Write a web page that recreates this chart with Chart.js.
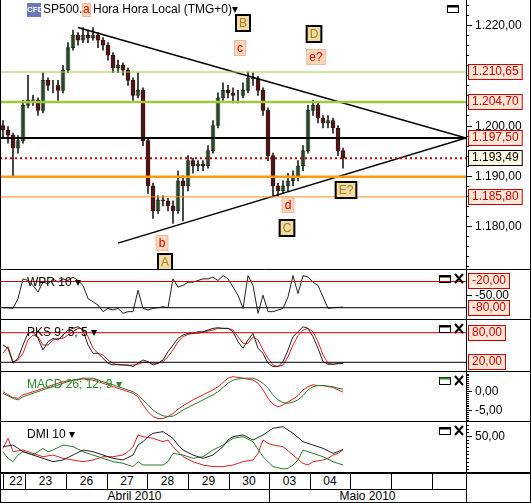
<!DOCTYPE html>
<html>
<head>
<meta charset="utf-8">
<script src="https://cdn.jsdelivr.net/npm/chart.js@4.4.1/dist/chart.umd.min.js"></script>
<style>
body{margin:0;width:531px;height:503px;position:relative;overflow:hidden;background:#fff;font-family:"Liberation Sans",Arial,sans-serif;font-size:11px}
canvas{position:absolute;left:0}
#dates{position:absolute;left:0;top:473px;width:531px;height:30px}
#dates div{position:absolute;box-sizing:border-box}
</style>
</head>
<body>
<canvas id="main" width="531" height="270" style="top:0"></canvas>
<canvas id="wpr" width="531" height="50" style="top:270px"></canvas>
<canvas id="pks" width="531" height="52" style="top:320px"></canvas>
<canvas id="macd" width="531" height="50" style="top:372px"></canvas>
<canvas id="dmi" width="531" height="51" style="top:422px"></canvas>
<div id="dates"></div>
<script>
// candles, one every hour slot (bar index)
const closes = [1199.1,1198.1,1195.5,1197.0,1204.0,1205.1,1205.0,1203.0,1209.0,1208.0,
  1208.0,1207.0,1211.0,1215.5,1218.0,1217.0,1218.0,1217.5,1218.0,1217.0,
  1216.0,1214.0,1211.5,1212.0,1211.0,1209.0,1206.0,1207.0,1197.0,1188.0,
  1183.0,1185.2,1185.0,1184.0,1183.0,1189.0,1188.0,1193.0,1192.0,1192.3,
  1192.0,1195.0,1200.0,1205.5,1207.0,1206.5,1206.0,1206.0,1207.0,1209.5,
  1209.3,1207.0,1203.0,1194.0,1188.0,1187.0,1188.0,1189.0,1190.0,1192.0,
  1195.0,1203.0,1204.0,1201.5,1200.5,1201.0,1199.5,1195.0,1193.5];
const highs = [1201,1199.8,1198.5,1198,1205,1210,1206,1205.5,1210.5,1209.5,
  1209,1209,1212,1216.5,1219,1218.5,1219.5,1219,1219.5,1218.5,
  1217.5,1216.5,1214.5,1213,1212.5,1211.5,1209.5,1210.5,1207.5,1197.5,
  1188.5,1186,1186,1185.5,1185,1191,1190,1194,1193.5,1193,
  1193,1196,1201,1206.5,1208.5,1208,1207.5,1207,1208.5,1210.7,
  1210.5,1209.8,1207.5,1203.5,1194.5,1188.5,1189,1190.5,1191,1193,
  1196,1204,1205,1204.5,1202,1202,1201.5,1200,1195.5];
const lows = [1197.5,1196.5,1190,1194.5,1196.5,1203.5,1204,1202,1202.5,1207,
  1206.5,1205,1206.5,1210.5,1215,1216,1216.5,1216.5,1217,1215.5,
  1215,1213,1210.5,1210.5,1210,1208,1205,1205.5,1196,1186.5,
  1181.5,1182.5,1184,1183,1180.5,1182.5,1181,1187,1190.5,1191,
  1191,1191.5,1194.5,1199.5,1205,1205.5,1204.5,1204.5,1205.5,1206.5,
  1208,1206,1202,1193,1185.8,1186,1186.5,1187,1188,1189,
  1191,1194.5,1202,1200.5,1199.5,1199.5,1198.5,1194,1191.5];
const firstOpen = 1200;

const levels = [1210.65, 1204.70, 1197.50, 1193.49, 1189.80, 1185.80];
const triUpper = [[78,1219.5],[466,1197.5]];
const triLower = [[118,1176.6],[466,1197.5]];

const wpr = [-80,-80,-81.5,-59,-14,-17.75,-29,-44,-21.5,-25,
  -14,-21.5,-14,-17.75,-10,-17.75,-29,-59,-66.5,-74,
  -89,-81.5,-85.25,-81.5,-92.75,-89,-89,-40,-81.5,-85.25,
  -81.5,-80,-77.75,-80,-14,-32.75,-29,-21.5,-21.5,-17.75,
  -14,-14,-10,-17.75,-6.5,-14,-32.75,-51.5,-81.5,-6.5,
  -29,-92.75,-51.5,-89,-89,-85.25,-81.5,-55.25,-6.5,-47.75,
  -6.5,-10,-21.5,-29,-55.25,-81.5,-80,-79.25,-78.5];
const pksK = [55.1,48.3,18.0,28.1,55.1,78.7,82.0,68.5,45.0,61.8,
  68.5,65.2,75.3,85.4,88.8,92.1,85.4,55.1,38.2,38.2,
  28.1,18.0,14.6,16.0,14.6,14.6,11.3,18.0,24.7,21.4,
  14.6,18.0,24.7,41.6,55.1,68.5,75.3,78.7,78.7,82.0,
  82.0,85.4,88.8,90.1,88.8,88.8,82.0,61.8,48.3,65.2,
  78.7,48.3,38.2,18.0,11.3,11.3,21.4,45.0,71.9,82.0,
  92.1,88.8,71.9,48.3,21.4,16.0,16.0,17.3,18.0];
const pksD = [38.2,51.7,21.4,24.7,38.2,65.2,75.3,71.9,55.1,55.1,
  65.2,68.5,68.5,75.3,82.0,88.8,88.8,71.9,48.3,38.2,
  34.8,24.7,18.0,14.6,14.6,13.3,14.6,16.0,20.0,20.0,
  18.0,18.0,21.4,31.5,45.0,61.8,71.9,76.6,78.7,78.7,
  80.7,83.4,85.4,88.8,88.8,88.8,85.4,71.9,58.4,58.4,
  71.9,65.2,45.0,28.1,14.6,11.3,14.6,31.5,55.1,73.9,
  85.4,88.8,82.0,61.8,34.8,18.0,16.0,17.3,17.3];

const macdT = [0,2,3,4,6,8,10,12,14,16,18,20,22,24,26,27,28,29,30,31,32,33,34,35,36,38,40,42,43,44,45,46,47,48,50,51,52,53,54,55,56,57,58,59,60,61,62,63,64,66,67,68];
const macdLine = [-0.6,-1.9,-2.3,-1.5,-0.6,0.3,1.1,2.0,2.8,3.3,3.3,2.4,1.6,0.7,-0.2,-1.0,-2.3,-3.6,-4.9,-5.8,
  -6.4,-6.6,-6.5,-5.8,-4.9,-3.6,-2.3,-1.0,-0.2,0.9,2.0,2.8,3.1,3.3,3.3,2.8,2.0,0.7,-1.0,-2.3,
  -3.0,-3.2,-2.9,-2.3,-1.2,0.3,1.1,1.4,1.4,1.1,0.7,0.5];
const macdSignal = [-0.2,-1.7,-1.9,-1.0,-0.2,0.7,1.6,2.4,2.8,3.1,2.8,2.0,1.1,0.3,-0.6,-1.5,-3.6,-5.3,-6.6,-7.1,
  -7.1,-6.6,-5.8,-4.7,-3.8,-2.3,-1.0,0.3,1.1,2.2,3.3,3.7,3.5,3.3,2.8,2.0,0.3,-1.9,-3.4,-4.1,
  -3.6,-2.8,-2.1,-1.2,0.3,1.1,1.6,1.4,1.4,0.9,0.3,-0.3];

const adxT = [0,2,4,6,8,10,12,14,16,18,20,22,24,26,27,28,29,30,32,34,35,36,38,40,42,44,45,46,48,50,52,54,56,57,58,60,62,64,66,67,68];
const adx = [35.6,37.8,28.8,24.3,19.8,15.3,17.6,24.3,31.1,28.8,24.3,19.8,17.6,24.3,37.8,42.3,49.1,53.6,55.9,46.8,
  37.8,31.1,24.3,19.8,24.3,35.6,44.6,49.1,51.4,44.6,51.4,60.4,62.6,58.1,53.6,42.3,37.8,33.3,26.5,28.8,32.0];
const diPlusT = [0,1,2,3,4,6,8,9,10,12,14,16,18,20,22,24,26,27,28,30,32,33,34,36,38,40,42,44,46,48,50,52,54,56,57,58,59,60,61,62,64,66,68];
const diPlus = [28.8,19.8,15.3,24.3,28.8,24.3,33.3,28.8,31.1,37.8,35.6,28.8,24.3,19.8,15.3,13.1,8.6,15.3,10.8,10.8,
  10.8,15.3,26.5,24.3,19.8,22.0,31.1,37.8,46.8,49.1,42.3,22.0,8.6,5.5,6.3,10.8,17.6,31.1,28.8,26.5,22.0,15.3,10.8];
const diMinusT = [0,1,2,4,6,8,10,12,14,16,18,20,22,24,25,26,27,28,30,32,33,34,36,38,40,42,44,46,48,50,51,52,53,54,56,58,60,61,62,64,65,66,67,68];
const diMinus = [33.3,46.8,28.8,31.1,26.5,22.0,24.3,19.8,17.6,15.3,17.6,22.0,22.0,24.3,28.8,35.6,51.4,49.1,46.8,42.3,
  44.6,35.6,22.0,15.3,10.8,8.6,8.6,10.8,15.3,17.6,26.5,44.6,40.1,37.8,35.6,24.3,13.1,10.8,15.3,17.6,19.8,24.3,26.5,31.1];

const days = ['22','23','26','27','28','29','30','03','04'];
const months = ['Abril 2010','Maio 2010'];

const px = t => t * 5 + 3;

function fmt(v) {
    const s = Math.abs(v).toFixed(2).split('.');
    return (v < 0 ? '-' : '') + s[0].replace(/\B(?=(\d{3})+(?!\d))/g, '.') + ',' + s[1];
}

function box(ctx, x, y, w, h, bg, border, lw) {
    ctx.fillStyle = bg;
    ctx.fillRect(x, y, w, h);
    ctx.strokeStyle = border;
    ctx.lineWidth = lw;
    ctx.strokeRect(x + lw / 2, y + lw / 2, w - lw, h - lw);
}

const deco = {
    id: 'deco',
    afterDraw(chart, args, o) {
        const ctx = chart.ctx, y = chart.scales.y, W = chart.width, H = chart.height;
        const ax = chart.chartArea.right;
        ctx.save();
        ctx.strokeStyle = '#000';
        ctx.lineWidth = 1;
        ctx.beginPath();
        ctx.moveTo(ax + 0.5, 0); ctx.lineTo(ax + 0.5, H);
        ctx.moveTo(0, H - 0.5); ctx.lineTo(W, H - 0.5);
        ctx.moveTo(0.5, 0); ctx.lineTo(0.5, H);
        ctx.moveTo(W - 0.5, 0); ctx.lineTo(W - 0.5, H);
        if (o.minor) {
            for (let v = Math.ceil(y.min / o.minor) * o.minor; v <= y.max; v += o.minor) {
                const py = Math.round(y.getPixelForValue(v)) + 0.5;
                ctx.moveTo(ax, py); ctx.lineTo(ax + 3, py);
            }
        }
        ctx.stroke();
        ctx.font = '12px "Liberation Sans"';
        ctx.textBaseline = 'middle';
        ctx.fillStyle = '#000';
        (o.ticks || []).forEach(v => {
            const py = Math.round(y.getPixelForValue(v)) + 0.5;
            ctx.beginPath(); ctx.moveTo(ax, py); ctx.lineTo(ax + 6, py); ctx.stroke();
            ctx.fillText(fmt(v), ax + 9, py);
        });
        (o.boxes || []).forEach(b => {
            const py = Math.round(y.getPixelForValue(b.v));
            const w = ctx.measureText(fmt(b.v)).width + 8;
            box(ctx, ax + 2, py - 8, w, 16, b.bg || '#ffe8d8', b.border || '#d00000', 1);
            ctx.fillStyle = b.color || '#d00000';
            ctx.fillText(fmt(b.v), ax + 6, py);
        });
        // panel title + window buttons
        ctx.font = '12px "Liberation Sans"';
        ctx.fillStyle = o.titleColor || '#000';
        if (o.title) ctx.fillText(o.title, 27, 13);
        ctx.strokeStyle = '#000';
        ctx.lineWidth = 1;
        ctx.strokeRect(o.mainBtn ? 447.5 : 439.5, 5.5, 11, 7);
        ctx.fillRect(o.mainBtn ? 447.5 : 439.5, 5.5, 11, 2);
        if (!o.mainBtn) {
            ctx.lineWidth = 2;
            ctx.beginPath();
            ctx.moveTo(455, 4); ctx.lineTo(463, 13);
            ctx.moveTo(463, 4); ctx.lineTo(455, 13);
            ctx.stroke();
        }
        (o.notes || []).forEach(n => {
            ctx.font = '12px "Liberation Sans"';
            const w = ctx.measureText(n.t).width + 6;
            if (n.big) {
                box(ctx, n.x - w / 2 - 1, n.y - 9, w + 2, 18, '#f3dca4', '#000', 2);
                ctx.fillStyle = '#a08020';
            } else {
                box(ctx, n.x - w / 2, n.y - 8, w, 16, '#ffd8bc', '#f0b898', 1);
                ctx.fillStyle = '#d00000';
            }
            ctx.textAlign = 'center';
            ctx.fillText(n.t, n.x, n.y + 1);
            ctx.textAlign = 'left';
        });
        if (o.header) {
            ctx.fillStyle = '#6a78b8';
            ctx.fillRect(27, 3, 14, 14);
            ctx.fillStyle = '#fff';
            ctx.font = 'bold 8px "Liberation Sans"';
            ctx.fillText('CFD', 27, 10);
            ctx.font = '12px "Liberation Sans"';
            ctx.fillStyle = '#000';
            ctx.fillText('SP500.I', 43, 10);
            box(ctx, 82, 3, 9, 14, '#ffd8bc', '#f0b898', 1);
            ctx.fillStyle = '#d00000';
            ctx.fillText('a', 83, 10);
            ctx.fillStyle = '#000';
            ctx.fillText('Hora Hora Local (TMG+0)\u25BE', 93, 10);
        }
        ctx.restore();
    }
};

function baseOptions(yMin, yMax, deco) {
    return {
        responsive: false,
        animation: false,
        events: [],
        layout: { padding: { left: 0, right: 65, top: 0, bottom: 0 } },
        plugins: { legend: { display: false }, tooltip: { enabled: false }, deco: deco },
        scales: {
            x: { type: 'linear', min: 0, max: 466, offset: false, display: false },
            y: { min: yMin, max: yMax, display: false }
        }
    };
}

function flat(v, color, width, dash) {
    return { type: 'line', data: [{ x: 0, y: v }, { x: 466, y: v }], borderColor: color, borderWidth: width, borderDash: dash || [], pointRadius: 0 };
}
function series(ts, vals, color) {
    return { type: 'line', data: vals.map((v, i) => ({ x: px(ts ? ts[i] : i), y: v })), borderColor: color, borderWidth: 1, pointRadius: 0, tension: 0 };
}

// main price panel
const opens = closes.map((c, i) => i === 0 ? firstOpen : closes[i - 1]);
new Chart(document.getElementById('main'), {
    type: 'bar',
    data: {
        datasets: [
            flat(levels[0], '#a8c850', 1), flat(levels[1], '#a0c83c', 2.5), flat(levels[2], '#000', 2),
            flat(levels[3], '#c00000', 2, [2, 3]), flat(levels[4], '#ff9a10', 2.5), flat(levels[5], '#ff8a20', 1),
            { type: 'line', data: triUpper.map(p => ({ x: p[0], y: p[1] })), borderColor: '#000', borderWidth: 1.5, pointRadius: 0 },
            { type: 'line', data: triLower.map(p => ({ x: p[0], y: p[1] })), borderColor: '#000', borderWidth: 1.5, pointRadius: 0 },
            { type: 'bar', grouped: false, barThickness: 1, backgroundColor: '#222',
              data: closes.map((c, i) => ({ x: px(i), y: [lows[i], highs[i]] })) },
            { type: 'bar', grouped: false, barThickness: 4, borderWidth: 1, borderSkipped: false,
              backgroundColor: closes.map((c, i) => c >= opens[i] ? '#8cc88c' : '#a01818'),
              borderColor: closes.map((c, i) => c >= opens[i] ? '#2a4a2a' : '#400000'),
              data: closes.map((c, i) => ({ x: px(i), y: [opens[i], c] })) }
        ]
    },
    options: baseOptions(1171.25, 1224.98, {
        header: true, mainBtn: true, minor: 2, ticks: [1220, 1200, 1190, 1180],
        boxes: [{ v: levels[0] }, { v: levels[1] }, { v: levels[2] },
                { v: levels[3], bg: '#fffbe0', border: '#000', color: '#000' }, { v: levels[5] }],
        notes: [{ t: 'B', x: 243, y: 23, big: true }, { t: 'c', x: 240, y: 48 }, { t: 'D', x: 314, y: 34, big: true },
                { t: 'e?', x: 316, y: 57 }, { t: 'b', x: 162, y: 243 }, { t: 'A', x: 165, y: 262, big: true },
                { t: 'd', x: 288, y: 205 }, { t: 'C', x: 287, y: 228, big: true }, { t: 'E?', x: 346, y: 190, big: true }]
    }),
    plugins: [deco]
});

new Chart(document.getElementById('wpr'), {
    type: 'line',
    data: { datasets: [flat(-20, '#d00000', 1), flat(-80, '#000', 1), series(null, wpr, '#222')] },
    options: baseOptions(-108.1, 6.3, { title: 'WPR 10 \u25BE', ticks: [-50], boxes: [{ v: -20 }, { v: -80 }] }),
    plugins: [deco]
});

new Chart(document.getElementById('pks'), {
    type: 'line',
    data: { datasets: [flat(80, '#d00000', 1), flat(20, '#000', 1), series(null, pksK, '#222'), series(null, pksD, '#e02020')] },
    options: baseOptions(0.3, 105.8, { title: 'PKS 9; 5; 5 \u25BE', boxes: [{ v: 80 }, { v: 20 }] }),
    plugins: [deco]
});

new Chart(document.getElementById('macd'), {
    type: 'line',
    data: { datasets: [series(macdT, macdLine, '#2a7a2a'), series(macdT, macdSignal, '#e02020')] },
    options: baseOptions(-8.0, 4.9, { title: 'MACD 26; 12; 9 \u25BE', titleColor: '#2a8a2a', minor: 0.5, ticks: [0, -5] }),
    plugins: [deco]
});

new Chart(document.getElementById('dmi'), {
    type: 'line',
    data: { datasets: [series(adxT, adx, '#222'), series(diPlusT, diPlus, '#2a7a2a'), series(diMinusT, diMinus, '#e02020')] },
    options: baseOptions(0, 68.9, { title: 'DMI 10 \u25BE', minor: 5, ticks: [50] }),
    plugins: [deco]
});

// date strip
const strip = document.getElementById('dates');
const cuts = [3, 25, 66, 107, 147, 188, 229, 269, 310, 350, 391, 432];
let html = '<div style="left:0;top:0;width:531px;height:30px;border:1px solid #000"></div>';
html += '<div style="left:0;top:16px;width:466px;height:1px;background:#000"></div>';
html += '<div style="left:466px;top:0;width:1px;height:30px;background:#000"></div>';
cuts.forEach(c => { html += '<div style="left:' + c + 'px;top:0;width:1px;height:16px;background:#000"></div>'; });
days.forEach((d, i) => {
    const l = cuts[i] + (i === 0 ? 2 : 0), w = cuts[i + 1] - cuts[i];
    html += '<div style="left:' + l + 'px;top:1px;width:' + w + 'px;text-align:center;font-size:12px">' + d + '</div>';
});
html += '<div style="left:269px;top:16px;width:1px;height:14px;background:#000"></div>';
html += '<div style="left:0;top:16px;width:269px;text-align:center;font-size:12px">' + months[0] + '</div>';
html += '<div style="left:269px;top:16px;width:197px;text-align:center;font-size:12px">' + months[1] + '</div>';
strip.innerHTML = html;
</script>
</body>
</html>
